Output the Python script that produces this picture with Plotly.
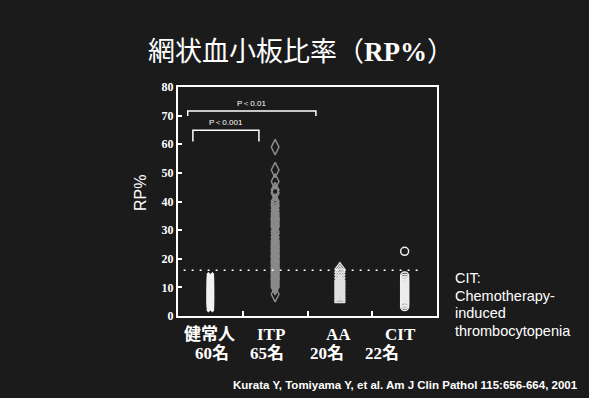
import plotly.graph_objects as go

# ---------------- data ----------------
groups = ["健常人", "ITP", "AA", "CIT"]
counts = ["60名", "65名", "20名", "22名"]

healthy = [2.6, 3.0, 3.2, 3.5, 3.7, 3.9, 4.1, 4.3, 4.4, 4.6,
           4.8, 5.0, 5.1, 5.3, 5.4, 5.6, 5.8, 5.9, 6.1, 6.2,
           6.4, 6.5, 6.7, 6.8, 7.0, 7.1, 7.3, 7.4, 7.6, 7.7,
           7.9, 8.0, 8.2, 8.3, 8.5, 8.6, 8.8, 9.0, 9.1, 9.3,
           9.5, 9.6, 9.8, 10.0, 10.2, 10.4, 10.6, 10.8, 11.0, 11.2,
           11.4, 11.6, 11.9, 12.1, 12.4, 12.7, 13.0, 13.3, 13.6, 14.0]

itp = [59.0, 51.0, 47.0, 44.0, 43.0, 40.0, 39.0, 38.3, 37.0, 35.2,
       34.5, 34.0, 33.5, 33.0, 32.5, 32.0, 31.5, 31.1, 28.8, 26.4,
       26.0, 25.5, 25.0, 24.5, 24.0, 23.5, 23.0, 22.5, 22.0, 21.5,
       21.0, 20.5, 20.0, 19.5, 19.0, 18.5, 18.0, 17.5, 17.0, 16.5,
       16.0, 15.5, 15.0, 14.5, 14.0, 13.5, 13.0, 12.5, 12.0, 11.5,
       11.0, 10.5, 10.1, 7.6, 24.2, 22.8, 20.8, 18.8, 16.8, 14.8,
       12.8, 27.5, 29.5, 33.8, 36.0]

aa = [5.5, 6.0, 6.5, 7.0, 7.5, 8.0, 8.5, 9.0, 9.5, 10.0,
      10.5, 11.0, 11.5, 12.0, 12.5, 13.0, 14.0, 15.0, 16.0, 17.0]

cit = [22.6, 14.0, 13.2, 12.5, 12.0, 11.5, 11.0, 10.5, 10.0, 9.5,
       9.0, 8.5, 8.0, 7.5, 7.0, 6.5, 6.0, 5.5, 5.0, 4.5, 4.0, 3.3]

cutoff = 16.0
yticks = [0, 10, 20, 30, 40, 50, 60, 70, 80]

note_lines = ["CIT:", "Chemotherapy-", "induced", "thrombocytopenia"]

# significance brackets: (x0, x1, y_top, y_bottom, label)
brackets = [(0.65, 2.63, 71.6, 69.9, "P＜0.01"),
            (0.73, 1.75, 64.9, 61.0, "P＜0.001")]

# ---------------- figure ----------------
W, H = 589, 398
ML, MR, MT, MB = 178, 152, 87, 82
PW, PH = W - ML - MR, H - MT - MB

def px(x):
    return (x - ML) / PW

def py(y):
    return (H - MB - y) / PH

BG = "#1b1b1b"
fig = go.Figure()

series = [
    (healthy, 1, dict(symbol="x", size=7, color="#f2f2f2",
                      line=dict(width=0))),
    (itp, 2, dict(symbol="diamond-tall-open", size=11, color="#8a8a8a",
                  line=dict(width=1.5, color="#8a8a8a"))),
    (aa, 3, dict(symbol="triangle-up-open", size=9, color="#e0e0e0",
                 line=dict(width=1.5, color="#e0e0e0"))),
    (cit, 4, dict(symbol="circle-open", size=8, color="#eeeeee",
                  line=dict(width=1.5, color="#eeeeee"))),
]
for vals, xpos, mk in series:
    fig.add_trace(go.Scatter(x=[xpos] * len(vals), y=vals, mode="markers",
                             marker=mk, showlegend=False, hoverinfo="skip",
                             cliponaxis=False))

# dotted cutoff line
fig.add_shape(type="line", xref="x", yref="y", x0=0.34, x1=4.29,
              y0=cutoff, y1=cutoff,
              line=dict(color="white", width=1.5, dash="2px,6px"))

# brackets
for x0, x1, yt, yb, lab in brackets:
    fig.add_trace(go.Scatter(x=[x0, x0, x1, x1], y=[yb, yt, yt, yb],
                             mode="lines", line=dict(color="white", width=1.5),
                             showlegend=False, hoverinfo="skip"))
    fig.add_annotation(x=(x0 + x1) / 2, y=yt + 2.6, xref="x", yref="y",
                       xanchor="center", yanchor="middle",
                       text=lab, showarrow=False,
                       font=dict(family="Liberation Sans", size=8, color="white"))

annos = []
# title
annos.append(dict(x=px(301), y=py(50),
                  text="網状血小板比率（<span style='font-family:Liberation Serif'><b>RP%</b></span>）",
                  font=dict(family="Noto Sans CJK JP", size=27, color="white")))
# y title
annos.append(dict(x=px(140), y=py(193),
                  text="RP%", textangle=-90,
                  font=dict(family="Liberation Sans", size=16, color="white")))
# category labels
cat_x = [209, 271, 338, 400]
cnt_x = [212, 267, 327, 382]
for g, c, gx, cx in zip(groups, counts, cat_x, cnt_x):
    annos.append(dict(x=px(gx), y=py(334), text="<b>" + g + "</b>",
                      font=dict(family="Liberation Serif, Noto Sans CJK JP",
                                size=17, color="white")))
    annos.append(dict(x=px(cx), y=py(353), text="<b>" + c + "</b>",
                      font=dict(family="Liberation Serif, Noto Sans CJK JP",
                                size=17, color="white")))
# right note
for line, ly in zip(note_lines, [278, 296, 313, 331]):
    annos.append(dict(x=px(453), y=py(ly), xanchor="left", text=line,
                      font=dict(family="Liberation Sans", size=14.5, color="white")))
# citation
annos.append(dict(x=px(580), y=py(385), xanchor="right",
                  text="<b>Kurata Y, Tomiyama Y, et al. Am J Clin Pathol 115:656-664, 2001</b>",
                  font=dict(family="Liberation Sans", size=11.5, color="white")))
for a in annos:
    a.setdefault("xanchor", "center")
    a.setdefault("yanchor", "middle")
    fig.add_annotation(xref="paper", yref="paper", showarrow=False, **a)

fig.update_layout(
    width=W, height=H,
    margin=dict(l=ML, r=MR, t=MT, b=MB),
    paper_bgcolor=BG, plot_bgcolor=BG,
    xaxis=dict(range=[0.5, 4.5], showgrid=False, zeroline=False,
               showline=True, linecolor="white", linewidth=2, mirror=True,
               ticks="inside", tickvals=[1.5, 2.5, 3.5], ticklen=5,
               tickcolor="white", tickwidth=1.5, showticklabels=False),
    yaxis=dict(range=[0, 80], showgrid=False, zeroline=False,
               showline=True, linecolor="white", linewidth=2, mirror=True,
               ticks="inside", tickvals=yticks, ticklen=4,
               tickcolor="white", tickwidth=1.5,
               tickfont=dict(family="Liberation Serif", size=12, color="white",
                             weight="bold")),
)

fig.write_html("out.html", config={"displayModeBar": False},
               post_script="document.body.style.margin='0';"
                           "document.body.style.background='" + BG + "';")
